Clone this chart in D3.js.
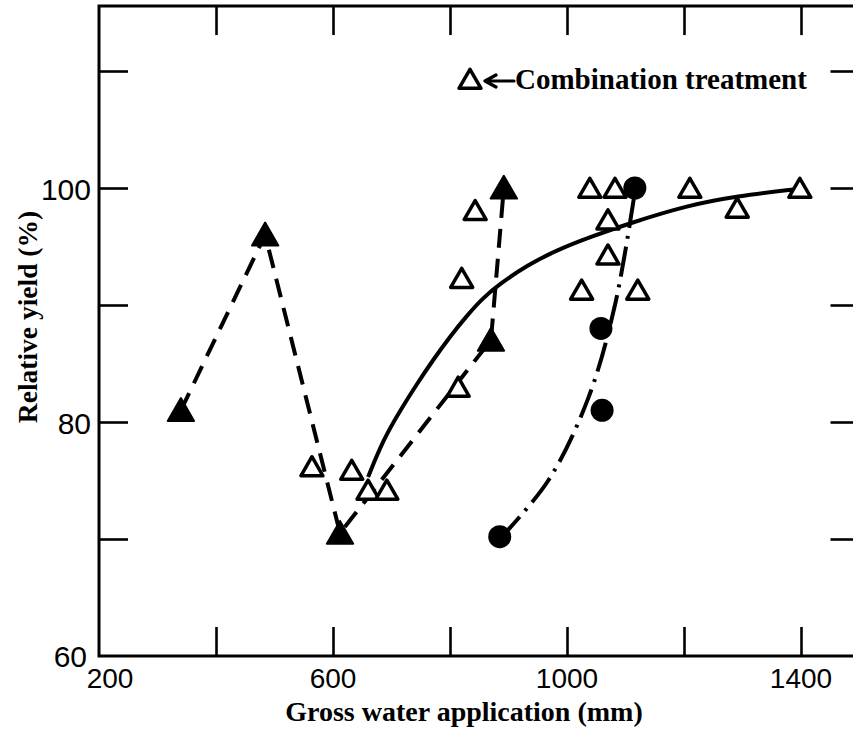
<!DOCTYPE html>
<html>
<head>
<meta charset="utf-8">
<script src="https://cdn.jsdelivr.net/npm/d3@7"></script>
<style>
  html, body { margin: 0; padding: 0; background: #fff; }
  svg { display: block; }
</style>
</head>
<body>
<svg id="chart" width="853" height="734"></svg>
<script>
// ---------------- data ----------------
const xTickValues = [400, 600, 800, 1000, 1200, 1400];
const xTickLabels = [200, 600, 1000, 1400];
const yTickValues = [70, 80, 90, 100, 110];
const yTickLabels = [60, 80, 100];

// filled triangles (dashed line)
const filledTriX = [340, 484, 612, 870, 892];
const filledTriY = [81, 96, 70.5, 87, 100];

// filled circles
const circleX = [885, 1060, 1058, 1116];
const circleY = [70.2, 81, 88, 100];

// dash-dot fitted curve through circles
const dashDotX = [885, 968, 1036, 1082, 1117];
const dashDotY = [70, 75, 82, 90, 100];

// solid fitted curve (combination treatment)
const solidX = [660, 686, 715, 744, 771, 800, 829, 856, 885, 932, 983, 1039, 1108, 1205, 1290, 1392];
const solidY = [75.3, 78.5, 81.0, 83.3, 85.3, 87.3, 89.1, 90.6, 91.8, 93.4, 94.7, 95.8, 97.0, 98.5, 99.3, 99.9];

// open triangles (combination treatment)
const openTriX = [564, 632, 660, 692, 814, 820, 843, 1039, 1082, 1070, 1070, 1025, 1121, 1210, 1291, 1398];
const openTriY = [76.2, 75.9, 74.2, 74.2, 83, 92.3, 98.1, 100, 100, 97.3, 94.3, 91.3, 91.3, 100, 98.3, 100];

const legendLabel = "Combination treatment";
const xTitle = "Gross water application (mm)";
const yTitle = "Relative yield (%)";

// ---------------- chart ----------------
const svg = d3.select("#chart");
const x = d3.scaleLinear().domain([200, 1500]).range([99, 859.5]);
const y = d3.scaleLinear().domain([60, 100]).range([656, 188]);
const yTopVal = 115.55;

const pLeft = x(200), pRight = x(1500), pBottom = y(60), pTop = y(yTopVal);
const tickLen = 29;
const sansFont = "'Liberation Sans', Arial, sans-serif";
const serifFont = "'Liberation Serif', 'Times New Roman', serif";

// frame
svg.append("path")
  .attr("d", `M${pLeft},${pBottom}V${pTop}H${pRight}V${pBottom}Z`)
  .attr("fill", "none").attr("stroke", "#000").attr("stroke-width", 3);

function styleAxis(g) {
  g.select(".domain").remove();
  g.selectAll(".tick line").attr("stroke", "#000").attr("stroke-width", 2.6);
  g.selectAll(".tick text").remove();
}

svg.append("g").attr("transform", `translate(0,${pBottom})`)
  .call(d3.axisBottom(x).tickValues(xTickValues).tickSize(-tickLen)).call(styleAxis);
svg.append("g").attr("transform", `translate(0,${pTop})`)
  .call(d3.axisTop(x).tickValues(xTickValues).tickSize(-tickLen)).call(styleAxis);
svg.append("g").attr("transform", `translate(${pLeft},0)`)
  .call(d3.axisLeft(y).tickValues(yTickValues).tickSize(-tickLen)).call(styleAxis);
svg.append("g").attr("transform", `translate(${pRight},0)`)
  .call(d3.axisRight(y).tickValues(yTickValues).tickSize(-tickLen)).call(styleAxis);

// tick labels
svg.append("g").selectAll("text").data(xTickLabels).join("text")
  .attr("x", d => x(d) + (d === 200 ? 11 : 0))
  .attr("y", 688)
  .attr("text-anchor", "middle")
  .attr("font-family", sansFont).attr("font-size", 28)
  .text(d => d);

svg.append("g").selectAll("text").data(yTickLabels).join("text")
  .attr("x", d => d === 60 ? 87 : 91)
  .attr("y", d => d === 60 ? y(d) + 11 : y(d) + 12)
  .attr("text-anchor", "end")
  .attr("font-family", sansFont).attr("font-size", 30)
  .text(d => d);

// axis titles
svg.append("text")
  .attr("x", 464).attr("y", 721)
  .attr("text-anchor", "middle")
  .attr("font-family", serifFont).attr("font-weight", "bold").attr("font-size", 28)
  .text(xTitle);

svg.append("text")
  .attr("transform", "translate(37,317) rotate(-90)")
  .attr("text-anchor", "middle")
  .attr("font-family", serifFont).attr("font-weight", "bold").attr("font-size", 27.5)
  .text(yTitle);

// lines
const line = d3.line().x(d => x(d[0])).y(d => y(d[1]));
const curveCR = d3.line().x(d => x(d[0])).y(d => y(d[1])).curve(d3.curveCatmullRom.alpha(0.5));
const curveSmooth = d3.line().x(d => x(d[0])).y(d => y(d[1])).curve(d3.curveBasis);

svg.append("path")
  .datum(filledTriX.map((v, i) => [v, filledTriY[i]]))
  .attr("d", line)
  .attr("fill", "none").attr("stroke", "#000").attr("stroke-width", 4)
  .attr("stroke-dasharray", "19,11");

svg.append("path")
  .datum(dashDotX.map((v, i) => [v, dashDotY[i]]))
  .attr("d", curveCR)
  .attr("fill", "none").attr("stroke", "#000").attr("stroke-width", 4)
  .attr("stroke-dasharray", "30,8,3,8");

svg.append("path")
  .datum(solidX.map((v, i) => [v, solidY[i]]))
  .attr("d", curveSmooth)
  .attr("fill", "none").attr("stroke", "#000").attr("stroke-width", 4);

// markers
const triOpen = d3.symbol().type(d3.symbolTriangle).size(210);
const triFilled = d3.symbol().type(d3.symbolTriangle).size(300);

svg.append("g").selectAll("path").data(openTriX.map((v, i) => [v, openTriY[i]])).join("path")
  .attr("transform", d => `translate(${x(d[0])},${y(d[1]) + 3})`)
  .attr("d", triOpen)
  .attr("fill", "#fff").attr("stroke", "#000").attr("stroke-width", 3.5)
  .attr("stroke-linejoin", "round");

svg.append("g").selectAll("path").data(filledTriX.map((v, i) => [v, filledTriY[i]])).join("path")
  .attr("transform", d => `translate(${x(d[0])},${y(d[1]) + 3})`)
  .attr("d", triFilled)
  .attr("fill", "#000").attr("stroke", "#000").attr("stroke-width", 2)
  .attr("stroke-linejoin", "round");

svg.append("g").selectAll("circle").data(circleX.map((v, i) => [v, circleY[i]])).join("circle")
  .attr("cx", d => x(d[0])).attr("cy", d => y(d[1]))
  .attr("r", 11.5).attr("fill", "#000");

// legend
const lg = svg.append("g");
lg.append("path")
  .attr("transform", "translate(470,82)")
  .attr("d", triOpen)
  .attr("fill", "#fff").attr("stroke", "#000").attr("stroke-width", 3.5)
  .attr("stroke-linejoin", "round");
lg.append("path")
  .attr("d", "M514,81H487M496,75L485,81L496,87")
  .attr("fill", "none").attr("stroke", "#000").attr("stroke-width", 3.2)
  .attr("stroke-linecap", "round").attr("stroke-linejoin", "round");
lg.append("text")
  .attr("x", 515).attr("y", 89)
  .attr("font-family", serifFont).attr("font-weight", "bold").attr("font-size", 29)
  .text(legendLabel);
</script>
</body>
</html>
